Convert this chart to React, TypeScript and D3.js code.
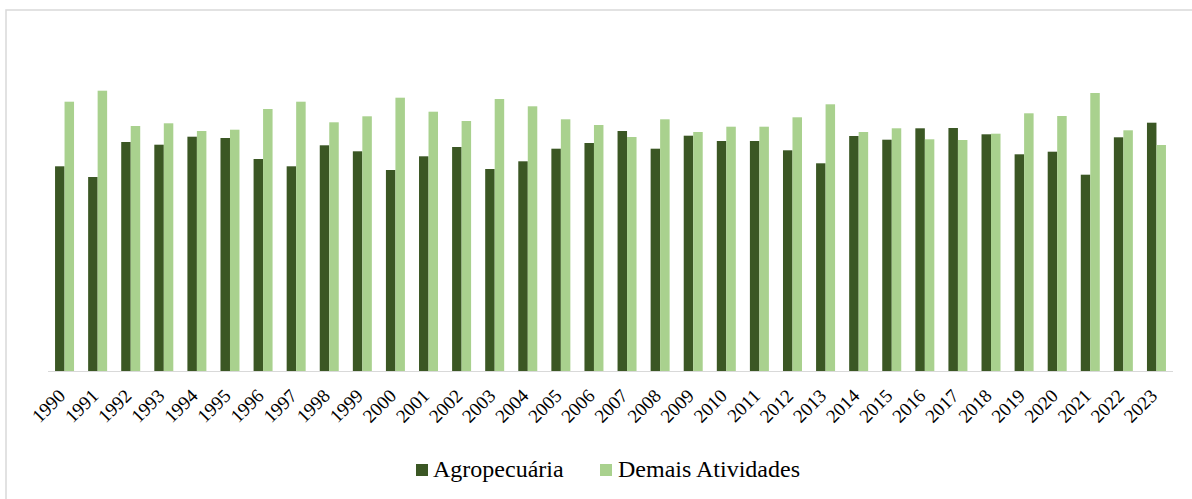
import React from "react";
import * as d3 from "d3";

const years: string[] = [
  "1990","1991","1992","1993","1994","1995","1996","1997","1998","1999",
  "2000","2001","2002","2003","2004","2005","2006","2007","2008","2009",
  "2010","2011","2012","2013","2014","2015","2016","2017","2018","2019",
  "2020","2021","2022","2023",
];

const agropecuaria: number[] = [
  204.7, 194, 229, 226.3, 234.3, 233, 212, 204.7, 225.7, 219.7,
  201, 214.7, 224, 202, 209.7, 222.3, 228, 240, 222.3, 235.3,
  230, 230, 220.7, 207.7, 235, 231.3, 242.7, 243, 236.7, 216.7,
  219.3, 196.3, 233.7, 248.3,
];

const demaisAtividades: number[] = [
  269.3, 280.3, 245, 247.7, 240, 241.3, 262, 269.3, 248.7, 254.7,
  273.3, 259.3, 250, 272, 264.7, 251.7, 246, 234, 251.7, 239,
  244.3, 244.3, 253.7, 266.7, 239, 242.7, 231.7, 231, 237.3, 257.7,
  255, 278, 240.7, 226,
];

const seriesNames: string[] = ["Agropecuária", "Demais Atividades"];
const seriesColors: string[] = ["#3b5724", "#a9d18e"];

const W = 1192;
const H = 499;
const plotLeft = 48;
const plotRight = 1173;
const baseY = 371;
const topY = 10;
const FONT = "'Liberation Serif', 'Times New Roman', Times, serif";

export default function App() {
  const x0 = d3
    .scaleBand<string>()
    .domain(years)
    .range([plotLeft, plotRight])
    .paddingInner(0.426)
    .paddingOuter(0.213);
  const x1 = d3
    .scaleBand<string>()
    .domain(seriesNames)
    .range([0, x0.bandwidth()])
    .padding(0);
  const y = d3.scaleLinear().domain([0, baseY - topY]).range([baseY, topY]);

  const seriesData = [agropecuaria, demaisAtividades];

  return (
    <svg
      width={W}
      height={H}
      style={{ position: "absolute", left: 0, top: 0, background: "#fff", fontFamily: FONT }}
    >
      <rect x={0} y={0} width={W} height={H} fill="#fff" />
      <rect
        x={6}
        y={10}
        width={W + 20}
        height={H + 20}
        fill="none"
        stroke="#d9d9d9"
        strokeWidth={1.5}
      />
      {years.map((yr, i) =>
        seriesNames.map((s, j) => {
          const v = seriesData[j][i];
          return (
            <rect
              key={yr + s}
              x={(x0(yr) ?? 0) + (x1(s) ?? 0)}
              y={y(v)}
              width={x1.bandwidth()}
              height={baseY - y(v)}
              fill={seriesColors[j]}
            />
          );
        })
      )}
      <line
        x1={plotLeft}
        x2={plotRight}
        y1={baseY + 0.5}
        y2={baseY + 0.5}
        stroke="#d9d9d9"
        strokeWidth={1}
      />
      {years.map((yr) => {
        const cx = (x0(yr) ?? 0) + x0.bandwidth() / 2 + 2;
        return (
          <text
            key={"t" + yr}
            transform={`translate(${cx},${397}) rotate(-45)`}
            textAnchor="end"
            fill="#000"
            style={{ fontFamily: FONT, fontSize: "19px" }}
          >
            {yr}
          </text>
        );
      })}
      <g>
        <rect x={416} y={464} width={12} height={12} fill={seriesColors[0]} />
        <text x={433} y={477} fill="#000" style={{ fontFamily: FONT, fontSize: "24px" }}>
          {seriesNames[0]}
        </text>
        <rect x={600} y={464} width={12} height={12} fill={seriesColors[1]} />
        <text x={618} y={477} fill="#000" style={{ fontFamily: FONT, fontSize: "24px" }}>
          {seriesNames[1]}
        </text>
      </g>
    </svg>
  );
}
